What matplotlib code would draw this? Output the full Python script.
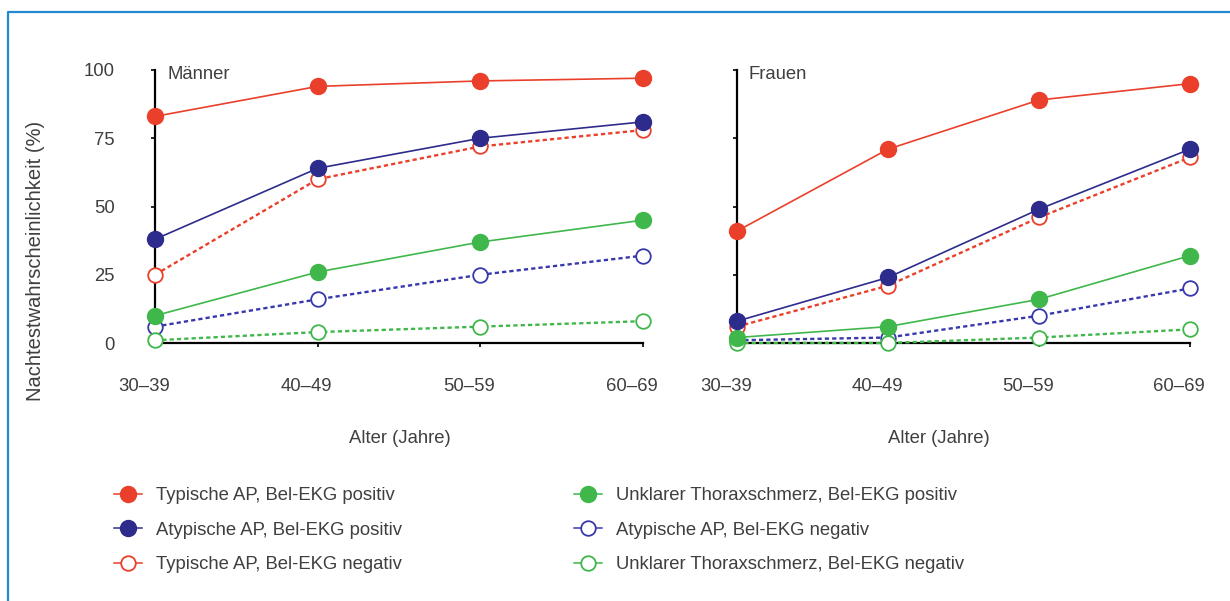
import matplotlib
matplotlib.use("Agg")
import matplotlib.pyplot as plt
import matplotlib.transforms as mtransforms
from matplotlib.lines import Line2D

plt.rcParams['font.family'] = ['Liberation Sans', 'DejaVu Sans']
plt.rcParams['font.size'] = 13.3

ALTER = ['30–39', '40–49', '50–59', '60–69']

# Maenner
m_typ_pos = [83, 94, 96, 97]
m_atyp_pos = [38, 64, 75, 81]
m_typ_neg = [25, 60, 72, 78]
m_unkl_pos = [10, 26, 37, 45]
m_atyp_neg = [6, 16, 25, 32]
m_unkl_neg = [1, 4, 6, 8]

# Frauen
f_typ_pos = [41, 71, 89, 95]
f_atyp_pos = [8, 24, 49, 71]
f_typ_neg = [6, 21, 46, 68]
f_unkl_pos = [2, 6, 16, 32]
f_atyp_neg = [1, 2, 10, 20]
f_unkl_neg = [0, 0, 2, 5]

LABELS = ['Typische AP, Bel-EKG positiv',
          'Atypische AP, Bel-EKG positiv',
          'Typische AP, Bel-EKG negativ',
          'Unklarer Thoraxschmerz, Bel-EKG positiv',
          'Atypische AP, Bel-EKG negativ',
          'Unklarer Thoraxschmerz, Bel-EKG negativ']

RED = '#ea402b'
NAVY = '#2d2c8c'
BLUE = '#3838ad'
GREEN = '#40b74b'
TXT = '#3f3f3f'

# (colour, filled, dashed)
STYLES = [(RED, True, False), (NAVY, True, False), (RED, False, True),
          (GREEN, True, False), (BLUE, False, True), (GREEN, False, True)]
# drawing order: open/dashed first, filled on top
ORDER = [2, 4, 5, 3, 1, 0]


def style_kw(i):
    col, filled, dashed = STYLES[i]
    kw = dict(color=col, marker='o', clip_on=False)
    if filled:
        kw.update(markersize=11.5, markerfacecolor=col, markeredgecolor=col,
                  linewidth=1.2, linestyle='-')
    else:
        kw.update(markersize=10.5, markerfacecolor='white', markeredgecolor=col,
                  markeredgewidth=1.3, linewidth=1.7, linestyle=(0, (1.8, 1.3)))
    return kw


fig = plt.figure(figsize=(12.3, 6.01), dpi=100)
ax1 = fig.add_axes([155 / 1230, 258 / 601, 488 / 1230, 273 / 601])
ax2 = fig.add_axes([737 / 1230, 258 / 601, 453 / 1230, 273 / 601])

panels = [
    (ax1, 'Männer', [m_typ_pos, m_atyp_pos, m_typ_neg, m_unkl_pos, m_atyp_neg, m_unkl_neg], 0.502),
    (ax2, 'Frauen', [f_typ_pos, f_atyp_pos, f_typ_neg, f_unkl_pos, f_atyp_neg, f_unkl_neg], 0.445),
]

xs = list(range(len(ALTER)))
shift = mtransforms.ScaledTranslation(-11 / 100, 0, fig.dpi_scale_trans)

for ax, title, series, xlab_x in panels:
    for z, i in enumerate(ORDER):
        ax.plot(xs, series[i], zorder=3 + z, **style_kw(i))
    ax.set_xlim(0, 3)
    ax.set_ylim(0, 100)
    for s in ('top', 'right'):
        ax.spines[s].set_visible(False)
    for s in ('left', 'bottom'):
        ax.spines[s].set_linewidth(1.6)
        ax.spines[s].set_color('black')
    ax.set_xticks(xs)
    ax.set_xticklabels(ALTER, color=TXT)
    ax.set_yticks([0, 25, 50, 75, 100])
    ax.tick_params(axis='x', direction='out', length=3, width=1.2, pad=22)
    ax.tick_params(axis='y', direction='out', length=3, width=1.2, pad=26, labelcolor=TXT)
    for lab in ax.get_xticklabels():
        lab.set_transform(lab.get_transform() + shift)
    ax.set_xlabel('Alter (Jahre)', color=TXT)
    ax.xaxis.set_label_coords(xlab_x, -0.32)
    ax.text(0.025, 0.985, title, transform=ax.transAxes, va='center', ha='left',
            color=TXT, fontsize=13.3)
    ax.patch.set_alpha(0)

ax2.set_yticklabels([])
ax1.set_ylabel('Nachtestwahrscheinlichkeit (%)', color=TXT, fontsize=14.5)
ax1.yaxis.set_label_coords(-0.226, 0.30)

# legend, two columns
handles = [Line2D([], [], **style_kw(i)) for i in range(6)]
for h in handles:
    h.set_linestyle('-')
    h.set_linewidth(1.1)
leg_kw = dict(loc='upper left', frameon=False, handlelength=1.5, handletextpad=0.8,
              labelspacing=0.95, borderpad=0, borderaxespad=0, labelcolor=TXT, fontsize=13.3)
fig.legend(handles[:3], LABELS[:3], bbox_to_anchor=(114 / 1230, 1 - 487 / 601), **leg_kw)
fig.legend(handles[3:], LABELS[3:], bbox_to_anchor=(574 / 1230, 1 - 487 / 601), **leg_kw)

# blue frame (left and top edge visible)
fx = 8 / 1230
fy = 1 - 12 / 601
fig.add_artist(Line2D([fx, fx, 1.0], [0.0, fy, fy], transform=fig.transFigure,
                      color='#2389cf', linewidth=1.6))

fig.savefig('out.png', dpi=100)
